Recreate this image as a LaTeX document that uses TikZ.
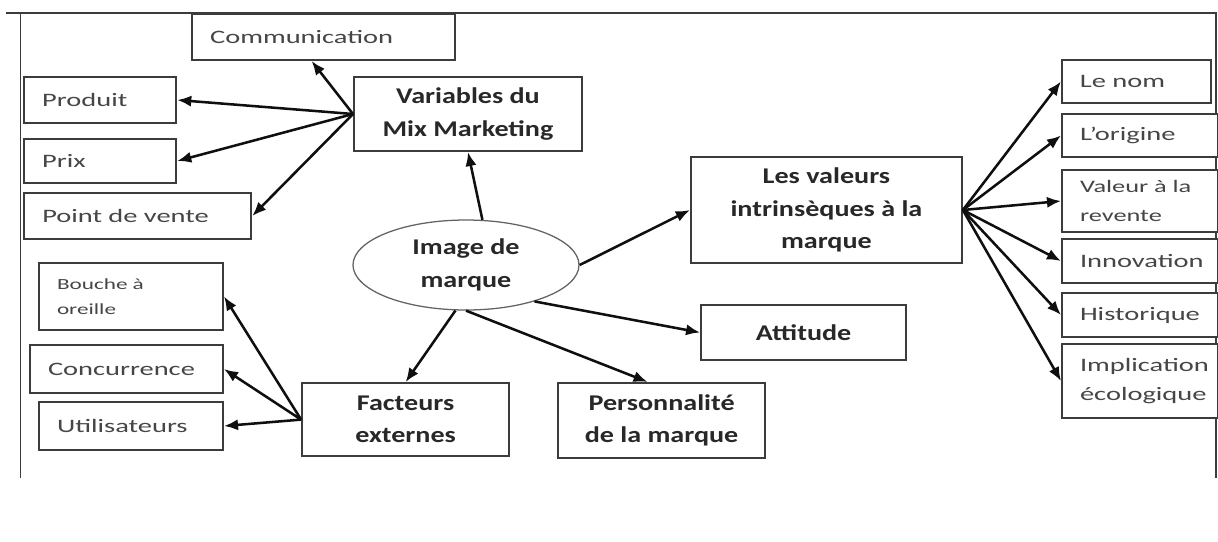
\documentclass[tikz,border=0pt]{standalone}
\usepackage{fontspec}
\usepackage{tikz}
\usetikzlibrary{arrows.meta,calc,shapes.geometric}
\newfontfamily\leaffont{Carlito}[FakeStretch=1.5]
\newfontfamily\headfont{Carlito}[FakeStretch=1.25]
\definecolor{boxline}{RGB}{60,60,60}
\definecolor{leaftext}{RGB}{70,70,70}
\definecolor{headtext}{RGB}{40,40,40}
\definecolor{arrline}{RGB}{15,15,15}
\tikzset{
  frm/.style ={draw=boxline, line width=1.4pt},
  lf/.style  ={draw=boxline, line width=1.4pt, fill=white, align=left, inner xsep=0.45cm,
               text=leaftext, font=\leaffont\fontsize{13.5}{21}\selectfont},
  hd/.style  ={draw=boxline, line width=1.4pt, fill=white, align=center,
               text=headtext, font=\headfont\bfseries\fontsize{16}{23}\selectfont},
  arr/.style ={draw=arrline, line width=1.8pt, -{Latex[length=10pt,width=8pt]}},
}

\begin{document}
\begin{tikzpicture}
  \useasboundingbox (0,0) rectangle (30.45,-13.525);
  % frame
  \draw[frm] (0.15,-0.325) -- (30.42,-0.325);
  \draw[frm] (0.5125,-0.325) -- (0.5125,-11.95);
  \draw[frm] (30.4,-0.325) -- (30.4,-11.95);
  % centre
  \node[ellipse, draw=boxline!80, line width=0.9pt, fill=white, minimum width=5.65cm, minimum height=2.25cm,
        align=center, text=headtext, font=\headfont\bfseries\fontsize{16}{23}\selectfont] (img) at (11.65,-6.625) {Image de\\marque};
  \node[hd, minimum width=5.7cm, minimum height=1.85cm] (mix) at (11.7,-2.85) {Variables du\\Mix Marketing};
  \node[hd, minimum width=6.775cm, minimum height=2.65cm] (val) at (20.66,-5.25) {Les valeurs\\intrinsèques à la\\marque};
  \node[hd, minimum width=5.125cm, minimum height=1.375cm] (att) at (20.09,-8.3125) {Attitude};
  \node[hd, minimum width=5.175cm, minimum height=1.875cm] (perso) at (16.54,-10.51) {Personnalité\\de la marque};
  \node[hd, minimum width=5.175cm, minimum height=1.825cm] (fact) at (10.14,-10.49) {Facteurs\\externes};
  % mix marketing
  \node[lf, text width=5.675cm, minimum height=1.15cm] (comm) at (8.09,-0.925) {Communication};
  \node[lf, text width=2.9cm, minimum height=1.15cm] (prod) at (2.506,-2.5) {Produit};
  \node[lf, text width=2.9cm, minimum height=1.1cm] (prix) at (2.506,-4.025) {Prix};
  \node[lf, text width=4.775cm, minimum height=1.15cm] (pdv) at (3.444,-5.4) {Point de vente};
  % facteurs externes
  \node[lf, text width=3.7cm, minimum height=1.675cm, font=\leaffont\fontsize{11}{18}\selectfont] (bouche) at (3.275,-7.41) {Bouche à\\oreille};
  \node[lf, text width=3.925cm, minimum height=1.2cm] (conc) at (3.1625,-9.225) {Concurrence};
  \node[lf, text width=3.7cm, minimum height=1.2cm] (util) at (3.275,-10.65) {Utilisateurs};
  % valeurs
  \node[lf, text width=2.825cm, minimum height=1.075cm] (nom) at (28.41,-2.0375) {Le nom};
  \node[lf, text width=3.0cm, minimum height=1.075cm] (orig) at (28.5,-3.3875) {L’origine};
  \node[lf, text width=3.0cm, minimum height=1.55cm, font=\leaffont\fontsize{12.5}{20}\selectfont] (rev) at (28.5,-5.025) {Valeur à la\\revente};
  \node[lf, text width=3.0cm, minimum height=1.1cm] (innov) at (28.5,-6.525) {Innovation};
  \node[lf, text width=3.0cm, minimum height=1.1cm] (hist) at (28.5,-7.875) {Historique};
  \node[lf, text width=3.0cm, minimum height=1.85cm] (impl) at (28.5,-9.525) {Implication\\écologique};
  % arrows
  \draw[arr] (img.70) -- (mix.south);
  \draw[arr] (mix.west) -- ($(comm.south)+(-0.3,0)$);
  \draw[arr] (mix.west) -- (prod.east);
  \draw[arr] (mix.west) -- (prix.east);
  \draw[arr] (mix.west) -- (pdv.east);
  \draw[arr] (img.east) -- (val.west);
  \draw[arr] (img.-28) -- (att.west);
  \draw[arr] (img.south) -- ($(perso.north)+(-0.35,0)$);
  \draw[arr] (img.-103) -- (fact.north);
  \draw[arr] (fact.west) -- (bouche.east);
  \draw[arr] (fact.west) -- (conc.east);
  \draw[arr] (fact.west) -- (util.east);
  \draw[arr] (val.east) -- (nom.west);
  \draw[arr] (val.east) -- (orig.west);
  \draw[arr] (val.east) -- (rev.west);
  \draw[arr] (val.east) -- (innov.west);
  \draw[arr] (val.east) -- (hist.west);
  \draw[arr] (val.east) -- (impl.west);
\end{tikzpicture}
\end{document}
